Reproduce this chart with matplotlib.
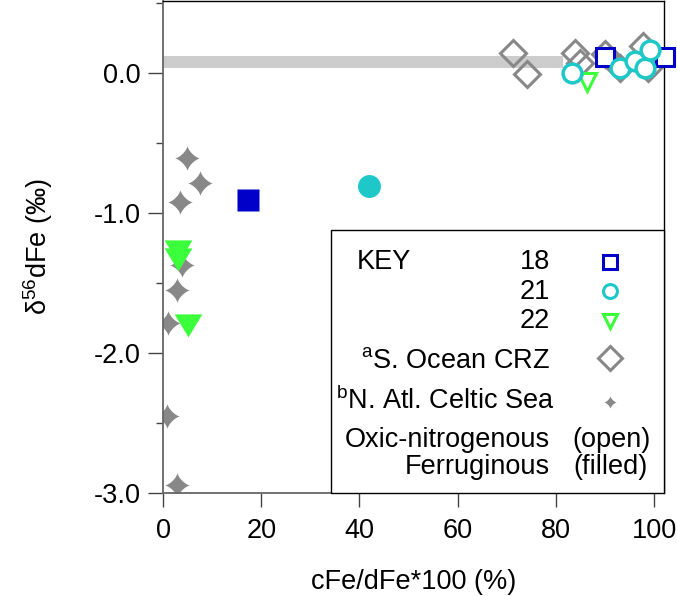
import numpy as np
import matplotlib
matplotlib.use("Agg")
from matplotlib import pyplot as plt
from matplotlib.patches import Rectangle

plt.rcParams["font.family"] = ["Liberation Sans", "DejaVu Sans"]
plt.rcParams["mathtext.fontset"] = "custom"
plt.rcParams["mathtext.rm"] = "Liberation Sans"
plt.rcParams["mathtext.it"] = "Liberation Sans"

# station 18 / 21 / 22, open = oxic-nitrogenous, filled = ferruginous
st18_open_x = [90.0, 102.2]
st18_open_y = [0.11, 0.11]
st18_fill_x = [17.2]
st18_fill_y = [-0.91]

st21_open_x = [83.3, 93.1, 96.1, 98.2, 99.2]
st21_open_y = [0.0, 0.035, 0.085, 0.035, 0.16]
st21_fill_x = [41.9]
st21_fill_y = [-0.81]

st22_open_x = [86.4]
st22_open_y = [-0.07]
st22_fill_x = [3.05, 3.05, 5.1]
st22_fill_y = [-1.27, -1.33, -1.80]

# a: S. Ocean CRZ, b: N. Atl. Celtic Sea
crz_x = [71.3, 74.1, 83.9, 84.9, 90.0, 93.1, 97.8, 98.8]
crz_y = [0.14, -0.01, 0.14, 0.07, 0.135, 0.03, 0.19, 0.03]
celtic_x = [4.9, 7.5, 3.5, 3.9, 2.9, 1.0, 0.8, 2.9]
celtic_y = [-0.61, -0.79, -0.92, -1.37, -1.55, -1.79, -2.45, -2.94]

crustal_x = [0, 81.5]
crustal_y = [0.075, 0.075]

blue = "#0000c8"
cyan = "#1ec8c8"
green = "#3cff3c"
grey = "#888888"

# four-point concave star
t = np.linspace(0, 2 * np.pi, 81)
star = list(zip(np.sign(np.cos(t)) * np.abs(np.cos(t)) ** 2.8,
                np.sign(np.sin(t)) * np.abs(np.sin(t)) ** 2.8))
wide_tri = [(-1, 0.8), (1, 0.8), (0, -0.85), (-1, 0.8)]

fig = plt.figure(figsize=(6.77, 5.96), dpi=100)
ax = fig.add_axes([0.2408, 0.1728, 0.7400, 0.8260])

ax.plot(crustal_x, crustal_y, color="#cccccc", lw=8.6, solid_capstyle="butt", zorder=1)

ax.plot(celtic_x, celtic_y, ls="none", marker=star, ms=18, color=grey, mec="none", zorder=2)
ax.plot(crz_x, crz_y, ls="none", marker="D", ms=13.5, mfc="none", mec=grey, mew=2.2, zorder=2)

ax.plot(st18_fill_x, st18_fill_y, ls="none", marker="s", ms=16.5, color=blue, mec="none", zorder=3)
ax.plot(st21_fill_x, st21_fill_y, ls="none", marker="o", ms=16.5, color=cyan, mec="none", zorder=3)
ax.plot(st22_fill_x, st22_fill_y, ls="none", marker=wide_tri, ms=20, color=green, mec="none", zorder=3)

ax.plot(st18_open_x, st18_open_y, ls="none", marker="s", ms=12.5, mfc="white", mec=blue,
        mew=2.2, zorder=3, clip_on=False)
ax.plot(st22_open_x, st22_open_y, ls="none", marker="v", ms=12.5, mfc="none", mec=green,
        mew=2.2, zorder=3)
ax.plot(st21_open_x, st21_open_y, ls="none", marker="o", ms=13.5, mfc="white", mec=cyan,
        mew=2.5, zorder=4)

ax.set_xlim(0, 102)
ax.set_ylim(-3.0, 0.513)
ax.set_xticks([0, 20, 40, 60, 80, 100])
ax.set_yticks([0.0, -1.0, -2.0, -3.0])
ax.set_yticklabels(["0.0", "-1.0", "-2.0", "-3.0"])
ax.set_yticks([0.5, -0.5, -1.5, -2.5], minor=True)

for s in ["left", "bottom"]:
    ax.spines[s].set_color("#666666")
    ax.spines[s].set_linewidth(1.3)
for s in ["top", "right"]:
    ax.spines[s].set_color("black")
    ax.spines[s].set_linewidth(1.0)

fs = 19.5
ax.tick_params(axis="both", which="major", direction="out", color="#444444",
               width=1.0, labelsize=fs)
ax.tick_params(axis="y", which="major", length=11, pad=5)
ax.tick_params(axis="y", which="minor", length=5, color="#444444", width=1.0)
ax.tick_params(axis="x", which="major", length=10, pad=8)

ax.set_xlabel("cFe/dFe*100 (%)", fontsize=fs, labelpad=18)
ax.set_ylabel("δ$^{56}$dFe (‰)", fontsize=fs, labelpad=28)

# key box
box = Rectangle((34.2, -3.0), 102 - 34.2, 1.874, facecolor="white", edgecolor="black",
                lw=1.0, zorder=5, clip_on=False)
ax.add_patch(box)

ax.text(39.5, -1.355, "KEY", fontsize=fs, ha="left", va="center", zorder=6)
ax.text(78.8, -1.355, "18", fontsize=fs, ha="right", va="center", zorder=6)
ax.text(78.8, -1.565, "21", fontsize=fs, ha="right", va="center", zorder=6)
ax.text(78.8, -1.775, "22", fontsize=fs, ha="right", va="center", zorder=6)
ax.text(78.8, -2.06, "$^{\\mathrm{a}}$S. Ocean CRZ", fontsize=fs, ha="right", va="center", zorder=6)
ax.text(79.8, -2.34, "$^{\\mathrm{b}}$N. Atl. Celtic Sea", fontsize=fs, ha="right", va="center", zorder=6)
ax.text(78.8, -2.62, "Oxic-nitrogenous", fontsize=fs, ha="right", va="center", zorder=6)
ax.text(78.8, -2.815, "Ferruginous", fontsize=fs, ha="right", va="center", zorder=6)
ax.text(83.3, -2.62, "(open)", fontsize=fs, ha="left", va="center", zorder=6)
ax.text(83.5, -2.815, "(filled)", fontsize=fs, ha="left", va="center", zorder=6)

ax.plot([91.0], [-1.355], ls="none", marker="s", ms=10, mfc="white", mec=blue, mew=2.2, zorder=6)
ax.plot([91.0], [-1.555], ls="none", marker="o", ms=10, mfc="white", mec=cyan, mew=2.2, zorder=6)
ax.plot([91.0], [-1.77], ls="none", marker="v", ms=10, mfc="white", mec=green, mew=2.2, zorder=6)
ax.plot([91.0], [-2.04], ls="none", marker="D", ms=12, mfc="white", mec=grey, mew=2.2, zorder=6)
ax.plot([91.0], [-2.35], ls="none", marker=star, ms=9, color=grey, mec="none", zorder=6)

fig.savefig("out.png", dpi=100)
